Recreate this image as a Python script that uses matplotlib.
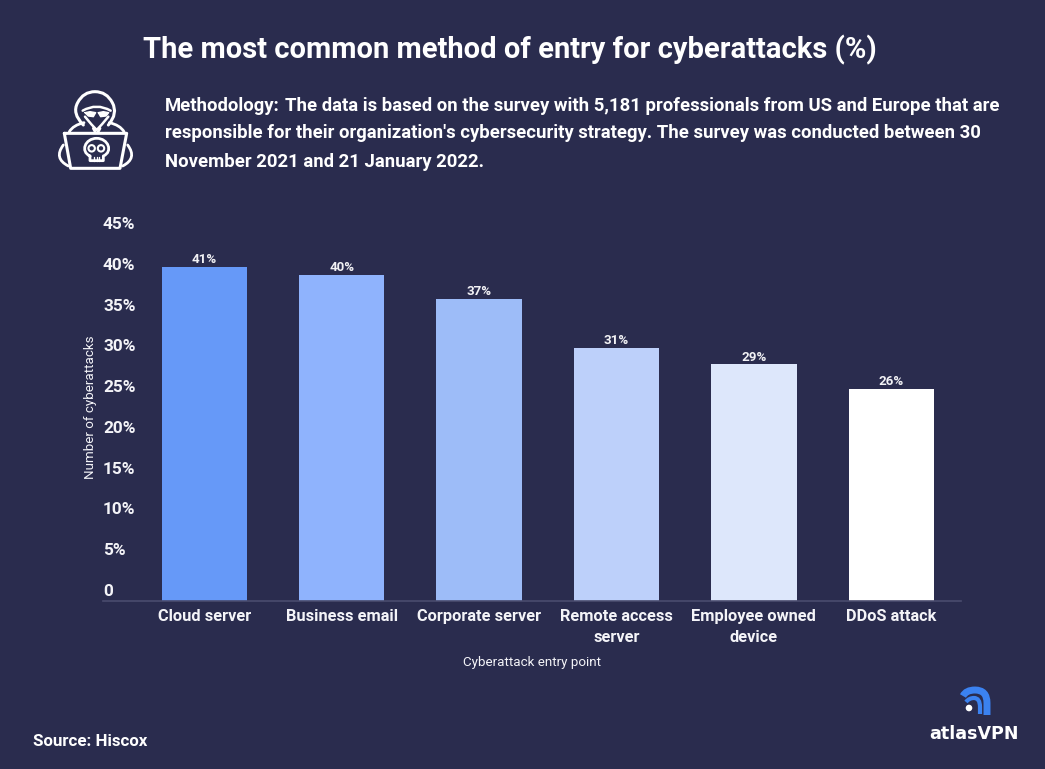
import matplotlib
matplotlib.use('Agg')
from matplotlib import pyplot as plt
from matplotlib.patches import Circle, PathPatch
from matplotlib.path import Path
from matplotlib.transforms import ScaledTranslation

categories = ['Cloud server', 'Business email', 'Corporate server',
              'Remote access\nserver', 'Employee owned\ndevice', 'DDoS attack']
values = [41, 40, 37, 31, 29, 26]
bar_labels = ['41%', '40%', '37%', '31%', '29%', '26%']
bar_colors = ['#6699f8', '#8fb3fd', '#9dbcf8', '#bdd0fa', '#dde7fb', '#ffffff']
y_ticks = [0, 5, 10, 15, 20, 25, 30, 35, 40, 45]
y_tick_labels = ['0', '5%', '10%', '15%', '20%', '25%', '30%', '35%', '40%', '45%']

BG = '#2a2c4e'
W, H = 1045, 769
plt.rcParams['font.family'] = ['Roboto', 'DejaVu Sans']

fig = plt.figure(figsize=(W / 100, H / 100), dpi=100, facecolor=BG)


def put(x, y, s, size, weight='bold', ha='left', **kw):
    # text placed by pixel position in the picture
    return fig.text(x / W, 1 - y / H, s, fontsize=size, fontweight=weight,
                    color='white', ha=ha, va='center', **kw)


# main chart, axes box in pixels: left 103, right 961, top 234, bottom 601
ax = fig.add_axes([103 / W, 1 - 601 / H, 858 / W, 367 / H], facecolor=BG)
ax.bar(range(len(values)), values, width=0.62, color=bar_colors)
ax.set_xlim(-0.737, 5.507)
ax.set_ylim(0, 45)

for i, v in enumerate(values):
    ax.text(i, v + 0.1, bar_labels[i], ha='center', va='bottom', color='#f2f2f5',
            fontsize=9.6, fontweight='bold')

for side in ['top', 'right', 'left']:
    ax.spines[side].set_visible(False)
ax.spines['bottom'].set_color('#4a4c6e')
ax.spines['bottom'].set_linewidth(1.2)

ax.set_xticks(range(len(categories)))
ax.set_xticklabels(categories, color='#f4f4f8', fontsize=11.8, fontweight='bold',
                   linespacing=1.5)
ax.set_yticks(y_ticks)
ax.set_yticklabels(y_tick_labels, color='#f4f4f8', fontsize=12.4, fontweight='bold',
                   ha='left')
ax.tick_params(axis='x', length=0, pad=6)
ax.tick_params(axis='y', length=0, pad=0)
# y labels sit above their tick position in the original
shift = ScaledTranslation(0, 11 / 100, fig.dpi_scale_trans)
for lab in ax.get_yticklabels():
    lab.set_transform(lab.get_transform() + shift)

ax.set_ylabel('Number of cyberattacks', color='#f4f4f8', fontsize=9.6)
ax.yaxis.set_label_coords(-0.0145, 0.529)
ax.set_xlabel('Cyberattack entry point', color='#f4f4f8', fontsize=9.6)
ax.xaxis.set_label_coords(0.5, -0.168)
ax.xaxis.label.set_va('center')
ax.yaxis.label.set_va('center')

# header and footer text
put(510, 50, 'The most common method of entry for cyberattacks (%)', 20.97, ha='center')
put(165, 106, 'Methodology:', 13.33)
put(285, 106, 'The data is based on the survey with 5,181 professionals from US and Europe that are', 13.33)
put(165, 133, "responsible for their organization's cybersecurity strategy. The survey was conducted between 30", 13.33)
put(165, 162, 'November 2021 and 21 January 2022.', 13.33)
put(33, 742, 'Source: Hiscox', 12.2)
put(974, 734, 'atlasVPN', 12.6, ha='center', family='DejaVu Sans')

# overlay in pixel coordinates for the icon and the logo
over = fig.add_axes([0, 0, 1, 1], facecolor='none')
over.set_xlim(0, W)
over.set_ylim(H, 0)
over.axis('off')


def icon(pt):
    return (30 + pt[0] / 3, 70 + pt[1] / 3)


def stroke(points, codes=None, lw=2.0, color='white', fill='none'):
    pts = [icon(p) for p in points]
    if codes is None:
        codes = [Path.MOVETO] + [Path.LINETO] * (len(pts) - 1)
    over.add_patch(PathPatch(Path(pts, codes), fc=fill, ec=color, lw=lw,
                             capstyle='round', joinstyle='round'))


C3 = Path.CURVE3
C4 = Path.CURVE4
M = Path.MOVETO
L = Path.LINETO
# hood
stroke([(160, 165), (125, 130), (143, 98), (160, 65), (195, 65), (230, 65), (247, 98),
        (265, 130), (235, 165)], [M, C3, C3, C3, C3, C3, C3, C3, C3], lw=2.2)
# brow and chin
stroke([(158, 122), (200, 98), (242, 122)], [M, C3, C3], lw=1.8)
stroke([(165, 140), (185, 165), (200, 180), (215, 165), (235, 140)], [M, C3, C3, C3, C3], lw=1.8)
# glasses
stroke([(165, 128), (180, 125), (197, 128), (190, 140), (175, 138), (165, 128)], lw=1.0, fill='white')
stroke([(205, 128), (220, 125), (236, 128), (228, 138), (212, 140), (205, 128)], lw=1.0, fill='white')
# shoulders
stroke([(118, 185), (130, 165), (162, 158)], [M, C3, C3])
stroke([(282, 185), (270, 165), (238, 158)], [M, C3, C3])
stroke([(190, 175), (197, 188)])
stroke([(210, 175), (203, 188)])
# laptop
stroke([(103, 190), (290, 190), (270, 295), (122, 295), (103, 190)], lw=2.2)
# arms
stroke([(100, 225), (70, 265), (115, 288)], [M, C3, C3])
stroke([(293, 225), (323, 265), (278, 288)], [M, C3, C3])
# skull
stroke([(180, 258), (150, 245), (165, 205), (200, 205), (235, 205), (250, 245), (220, 258),
        (220, 272), (180, 272), (180, 258)], [M, C4, C4, C4, C4, C4, C4, L, L, L], lw=2.0)
for tx in [192, 200, 208]:
    stroke([(tx, 262), (tx, 272)], lw=1.0)
for ex in [185, 213]:
    cx, cy = icon((ex, 235))
    over.add_patch(Circle((cx, cy), 3.2, fc=BG, ec='white', lw=1.5))

# logo
BLUE = '#3b82f0'
for pts, width in [([(963, 696), (966, 690), (975, 690), (987, 690), (987, 703), (987, 715)], 5.0),
                   ([(966, 702), (969, 698), (974, 698), (980, 698), (980, 707), (980, 714)], 3.0)]:
    over.add_patch(PathPatch(Path(pts, [M, C3, C3, C3, C3, L]), fc='none', ec=BLUE, lw=width,
                             capstyle='butt'))
over.add_patch(Circle((969, 708), 3.3, fc='white', ec='none'))

fig.savefig('out.png', dpi=100, facecolor=BG)
